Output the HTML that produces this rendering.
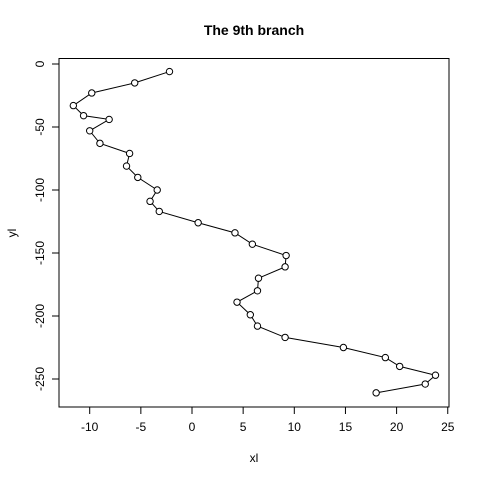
<!DOCTYPE html>
<html><head><meta charset="utf-8"><style>body{margin:0;background:#fff}svg{display:block;font-family:"Liberation Sans",sans-serif}</style></head>
<body>
<svg id="c" width="480" height="480">
<text x="254" y="35" text-anchor="middle" font-size="14" font-weight="bold">The 9th branch</text>
<rect x="59" y="58.5" width="390" height="348.5" fill="none" stroke="#000"/>
<text x="254" y="462" text-anchor="middle" font-size="12">xl</text>
<text transform="translate(16,233) rotate(-90)" text-anchor="middle" font-size="12">yl</text>
<g id="ax"></g><g id="marks"></g>
</svg>
<script>
const xTicks=[-10,-5,0,5,10,15,20,25];
const yTicks=[0,-50,-100,-150,-200,-250];
const xs=[-2.2,-5.6,-9.8,-11.6,-10.6,-8.1,-10.0,-9.0,-6.1,-6.4,-5.3,-3.4,-4.1,-3.2,0.6,4.2,5.9,9.2,9.1,6.5,6.4,4.4,5.7,6.4,9.1,14.8,18.9,20.3,23.8,22.8,18.0];
const ys=[-6,-15,-23,-33,-41,-44,-53,-63,-71,-81,-90,-100,-109,-117,-126,-134,-143,-152,-161,-170,-180,-189,-199,-208,-217,-225,-233,-240,-247,-254,-261];
const X=v=>192+v*10.23, Y=v=>64-v*1.26;
const NS="http://www.w3.org/2000/svg";
const ax=document.getElementById('ax'), mk=document.getElementById('marks');
function el(t,a,p){const e=document.createElementNS(NS,t);for(const k in a)e.setAttribute(k,a[k]);p.appendChild(e);return e;}
xTicks.forEach(t=>{
 const l=el('line',{x1:X(t),x2:X(t),y1:407,y2:414,stroke:'#000'},ax);
 
 
 const tx=el('text',{x:X(t),y:431,'text-anchor':'middle','font-size':12},ax);tx.textContent=t;
 
 
});
yTicks.forEach(t=>{
 const l=el('line',{x1:52,x2:59,y1:Y(t),y2:Y(t),stroke:'#000'},ax);
 
 
 const tx=el('text',{transform:`translate(44,${Y(t)}) rotate(-90)`,'text-anchor':'middle','font-size':12},ax);tx.textContent=t;
 
 
});
const pl=el('polyline',{points:xs.map((x,i)=>X(x)+','+Y(ys[i])).join(' '),fill:'none',stroke:'#000','stroke-width':1},mk);


xs.forEach((x,i)=>{
 const c=el('circle',{cx:X(x),cy:Y(ys[i]),r:3.2,fill:'#fff',stroke:'#000'},mk);
 
 
});
</script>
</body></html>
